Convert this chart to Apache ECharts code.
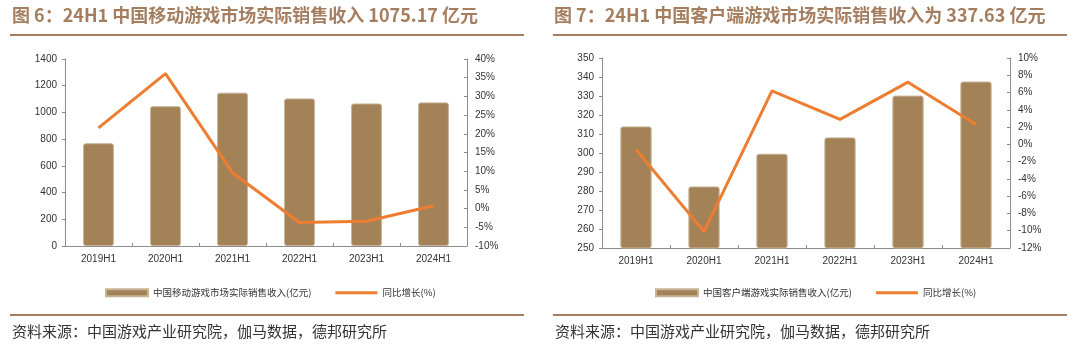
<!DOCTYPE html>
<html><head><meta charset="utf-8">
<script src="https://cdn.jsdelivr.net/npm/echarts@6/dist/echarts.min.js"></script>
<style>html,body{margin:0;padding:0;background:#fff}#c{width:1080px;height:349px}</style>
</head><body><div id="c"></div>
<script>
const categories = ['2019H1', '2020H1', '2021H1', '2022H1', '2023H1', '2024H1'];
const mobileRevenue = [769.2, 1046.7, 1147.8, 1104.9, 1067.1, 1075.17];
const mobileGrowth = [21.6, 36.1, 9.6, -3.7, -3.4, 0.76];
const pcRevenue = [314.0, 282.4, 299.6, 308.2, 330.2, 337.63];
const pcGrowth = [-0.6, -10.1, 6.2, 2.9, 7.2, 2.3];
const mobileBarName = '中国移动游戏市场实际销售收入(亿元)';
const pcBarName = '中国客户端游戏实际销售收入(亿元)';
const growthName = '同比增长(%)';
const titleLeft = '图 6：24H1 中国移动游戏市场实际销售收入 1075.17 亿元';
const titleRight = '图 7：24H1 中国客户端游戏市场实际销售收入为 337.63 亿元';
const sourceText = '资料来源：中国游戏产业研究院，伽马数据，德邦研究所';

const BAR = '#A38258', LINE = '#ED7D31', BROWN = '#A57E5F', AXIS = '#8c8c8c', TXT = '#333';
const CJK = '"Noto Sans CJK SC", "Noto Sans", sans-serif';
const LAT = '"Liberation Sans", Arial, sans-serif';
const LINE_ICON = 'path://M0,0L0.01,0Z M0,2H42V5H0Z M42,7L41.99,7Z';

function xAxis(gi) {
  return {
    type: 'category', gridIndex: gi, data: categories,
    axisLine: { onZero: false, lineStyle: { color: AXIS, width: 1 } },
    axisTick: { show: true, inside: true, length: 3, lineStyle: { color: AXIS } },
    axisLabel: { color: TXT, fontSize: 10, fontFamily: LAT, margin: 8 }
  };
}
function yAxis(gi, pos, min, max, interval, pct) {
  return {
    type: 'value', gridIndex: gi, position: pos, min, max, interval,
    splitLine: { show: false },
    axisLine: { show: true, onZero: false, lineStyle: { color: AXIS, width: 1 } },
    axisTick: { show: true, inside: pos === 'right', length: 3, lineStyle: { color: AXIS } },
    axisLabel: { color: TXT, fontSize: 10, fontFamily: LAT, margin: 8,
      formatter: v => pct ? String(v) + '%' : String(v) }
  };
}
const barStyle = { color: BAR, borderColor: '#C8B396', borderWidth: 1, borderRadius: 2 };
const legendBase = {
  itemWidth: 42, itemHeight: 7, itemGap: 24,
  textStyle: { fontSize: 9.5, fontFamily: CJK, color: TXT }
};

const chart = echarts.init(document.getElementById('c'), null, { renderer: 'canvas' });
chart.setOption({
  animation: false,
  grid: [
    { left: 65, top: 59, width: 402, height: 187 },
    { left: 602, top: 58, width: 408, height: 190 }
  ],
  xAxis: [xAxis(0), xAxis(1)],
  yAxis: [
    yAxis(0, 'left', 0, 1400, 200, false),
    yAxis(0, 'right', -10, 40, 5, true),
    yAxis(1, 'left', 250, 350, 10, false),
    yAxis(1, 'right', -12, 10, 2, true)
  ],
  legend: [
    Object.assign({ left: 100, top: 283,
      data: [{ name: mobileBarName, icon: 'rect' }, { name: growthName, icon: LINE_ICON }] }, legendBase),
    Object.assign({ left: 650, top: 283,
      data: [{ name: pcBarName, icon: 'rect' }, { name: growthName, icon: LINE_ICON }] }, legendBase)
  ],
  series: [
    { name: mobileBarName, type: 'bar', xAxisIndex: 0, yAxisIndex: 0, data: mobileRevenue, barWidth: '46%', itemStyle: barStyle },
    { name: growthName, type: 'line', xAxisIndex: 0, yAxisIndex: 1, data: mobileGrowth, symbol: 'none', lineStyle: { color: LINE, width: 3 }, itemStyle: { color: LINE } },
    { name: pcBarName, type: 'bar', xAxisIndex: 1, yAxisIndex: 2, data: pcRevenue, barWidth: '46%', itemStyle: barStyle },
    { name: growthName, type: 'line', xAxisIndex: 1, yAxisIndex: 3, data: pcGrowth, symbol: 'none', lineStyle: { color: LINE, width: 3 }, itemStyle: { color: LINE } }
  ],
  graphic: [
    { type: 'text', left: 12, top: 6, style: { text: titleLeft, font: 'bold 18px ' + CJK, fill: BROWN } },
    { type: 'text', left: 554, top: 6, style: { text: titleRight, font: 'bold 18px ' + CJK, fill: BROWN } },
    { type: 'line', shape: { x1: 10, y1: 35, x2: 524, y2: 35 }, style: { stroke: BROWN, lineWidth: 2 } },
    { type: 'line', shape: { x1: 553, y1: 35, x2: 1067, y2: 35 }, style: { stroke: BROWN, lineWidth: 2 } },
    { type: 'line', shape: { x1: 10, y1: 315, x2: 524, y2: 315 }, style: { stroke: BROWN, lineWidth: 2 } },
    { type: 'line', shape: { x1: 553, y1: 315, x2: 1067, y2: 315 }, style: { stroke: BROWN, lineWidth: 2 } },
    { type: 'text', left: 12, top: 324, style: { text: sourceText, font: '15px ' + CJK, fill: TXT } },
    { type: 'text', left: 555, top: 324, style: { text: sourceText, font: '15px ' + CJK, fill: TXT } }
  ]
});
</script></body></html>
